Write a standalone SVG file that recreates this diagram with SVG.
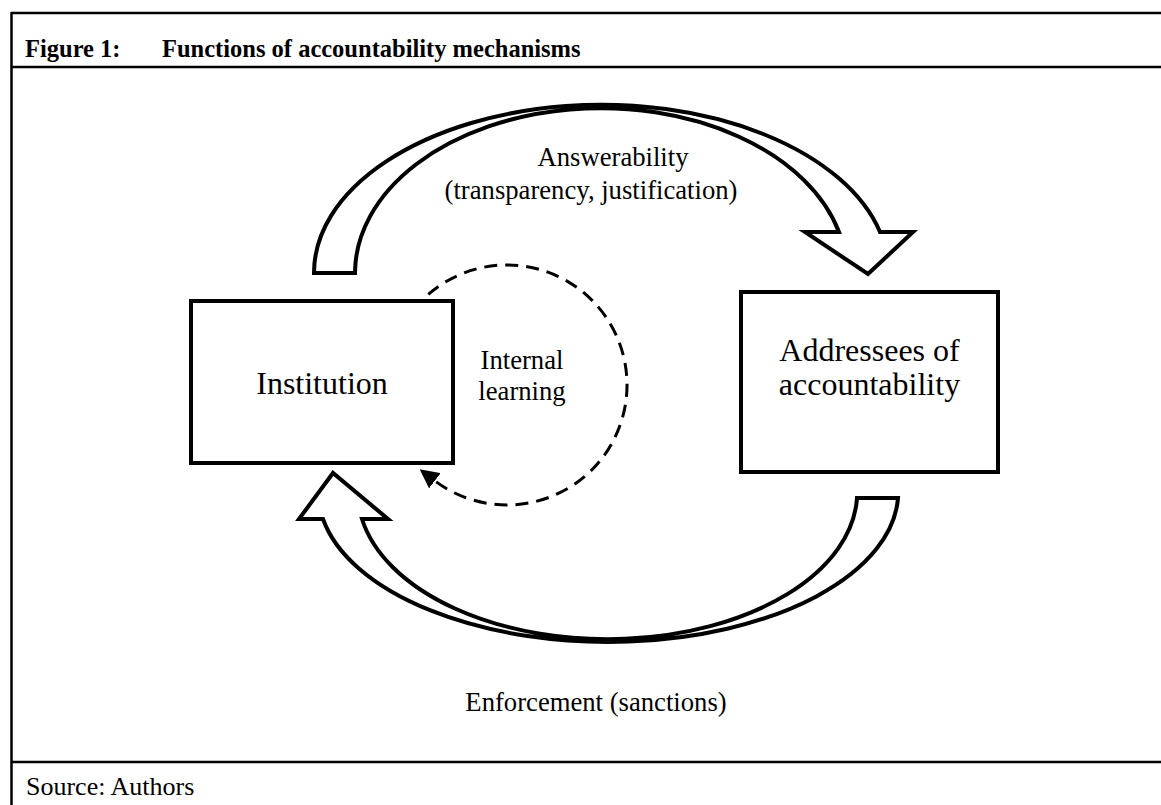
<svg xmlns="http://www.w3.org/2000/svg" width="1161" height="805" viewBox="0 0 1161 805">
<style>
.frame{stroke:#000;stroke-width:2.5;fill:none}
.box{fill:#fff;stroke:#000;stroke-width:4}
.blk{fill:#fff;stroke:#000;stroke-width:4;stroke-linejoin:miter}
.dash{fill:none;stroke:#000;stroke-width:3;stroke-dasharray:13 8}
.t{font-family:"Liberation Serif","Times New Roman",serif;fill:#000}
.hd{font-size:24.5px;font-weight:bold}
.lbl{font-size:26.67px}
.big{font-size:32px}
</style>
<defs>
<marker id="ah" markerWidth="19" markerHeight="19" refX="0" refY="9.5" orient="auto" markerUnits="userSpaceOnUse">
<path d="M0,0 L19,9.5 L0,19 Z" fill="#000"/>
</marker>
</defs>
<rect x="0" y="0" width="1161" height="805" fill="#fff"/>
<g id="frame">
<line class="frame" x1="11" y1="13" x2="1161" y2="13"/>
<line class="frame" x1="11.5" y1="12" x2="11.5" y2="805"/>
<line class="frame" x1="11" y1="67" x2="1161" y2="67"/>
<line class="frame" x1="11" y1="762" x2="1161" y2="762"/>
<text class="t hd" x="25" y="57">Figure 1:</text>
<text class="t hd" x="162" y="57">Functions of accountability mechanisms</text>
<text class="t" x="26" y="795" font-size="26">Source: Authors</text>
</g>
<g id="connectors">
<path id="answerability-arrow" class="blk" d="M314,273 A287.3,168 0 0 1 880,232 L913,232 L868,274 L805,232 L839,232 A245.9,165 0 0 0 355,273 Z"/>
<path id="enforcement-arrow" class="blk" d="M898,498 A290,150 0 0 1 323,519 L299,519 L333,473 L388,519 L362,519 A249.7,147 0 0 0 857,498 Z"/>
<path id="learning-arrow" class="dash" d="M428.3,294.4 A120,120 0 1 1 434.8,480.8" marker-end="url(#ah)"/>
</g>
<g id="label-answerability">
<text class="t lbl" x="613" y="166" text-anchor="middle">Answerability</text>
<text class="t lbl" x="591" y="199" text-anchor="middle">(transparency, justification)</text>
</g>
<g id="label-learning">
<text class="t lbl" x="522" y="369" text-anchor="middle">Internal</text>
<text class="t lbl" x="522" y="400" text-anchor="middle">learning</text>
</g>
<g id="label-enforcement">
<text class="t lbl" x="596" y="711" text-anchor="middle">Enforcement (sanctions)</text>
</g>
<g id="node-institution">
<rect class="box" x="191" y="301" width="262" height="162"/>
<text class="t big" x="322" y="394" text-anchor="middle">Institution</text>
</g>
<g id="node-addressees">
<rect class="box" x="741" y="292" width="257" height="180"/>
<text class="t big" x="869.5" y="361" text-anchor="middle">Addressees of</text>
<text class="t big" x="869.5" y="395" text-anchor="middle">accountability</text>
</g>
</svg>
